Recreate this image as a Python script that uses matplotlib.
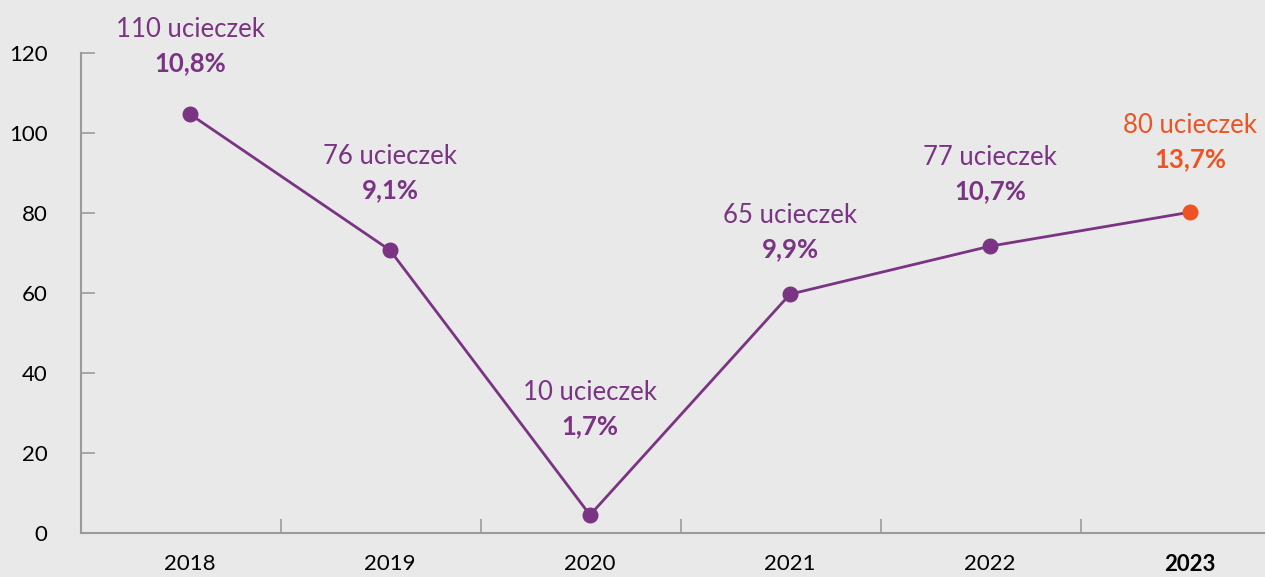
import numpy as np
import matplotlib.pyplot as plt

# data
years = ['2018', '2019', '2020', '2021', '2022', '2023']
plotted = [104.7, 70.7, 4.5, 59.7, 71.7, 80.2]   # where the markers sit
escapes = [110, 76, 10, 65, 77, 80]               # numbers in the labels
share = ['10,8%', '9,1%', '1,7%', '9,9%', '10,7%', '13,7%']

# layout: how far above each marker the label block sits (pixels)
label_lift = [51, 60, 89, 45, 55, 53]

PURPLE = '#7B3383'
ORANGE = '#EE5323'
BG = '#E8E9E8'
GRID = '#9A9A9A'

plt.rcParams['font.family'] = ['Lato', 'DejaVu Sans']

fig = plt.figure(figsize=(12.65, 5.77), dpi=100, facecolor=BG)
ax = fig.add_axes([81 / 1265, 44 / 577, 1 - 81 / 1265, 480 / 577])
ax.set_facecolor(BG)

x = np.arange(len(years))
ax.plot(x, plotted, color=PURPLE, lw=2, zorder=2)
ax.scatter(x[:-1], plotted[:-1], s=110, color=PURPLE, zorder=3)
ax.scatter(x[-1:], plotted[-1:], s=110, color=ORANGE, zorder=3)

for i in range(len(years)):
    c = ORANGE if i == len(years) - 1 else PURPLE
    ax.annotate(share[i], (x[i], plotted[i]), xytext=(0, label_lift[i]),
                textcoords='offset pixels', ha='center', va='center',
                fontsize=18.5, fontweight='bold', color=c, annotation_clip=False)
    ax.annotate(f'{escapes[i]} ucieczek', (x[i], plotted[i]),
                xytext=(0, label_lift[i] + 34), textcoords='offset pixels',
                ha='center', va='center', fontsize=18.5, color=c,
                annotation_clip=False)

ax.set_xlim(-0.545, 5.375)
ax.set_ylim(0, 120)
ax.set_yticks(range(0, 121, 20))
ax.tick_params(axis='y', direction='in', length=10, width=1.2, color=GRID,
               labelsize=16, pad=24)
ax.set_xticks(x)
ax.set_xticklabels(years)
ax.tick_params(axis='x', which='major', length=0, labelsize=16, pad=15)
ax.set_xticks(x[:-1] + 0.455, minor=True)
ax.tick_params(axis='x', which='minor', direction='in', length=10, width=1.2,
               color=GRID)
ax.get_xticklabels()[-1].set_fontweight('bold')

for s in ['top', 'right']:
    ax.spines[s].set_visible(False)
for s in ['left', 'bottom']:
    ax.spines[s].set_color(GRID)
    ax.spines[s].set_linewidth(1.5)

fig.savefig('out.png', dpi=100, facecolor=BG)
